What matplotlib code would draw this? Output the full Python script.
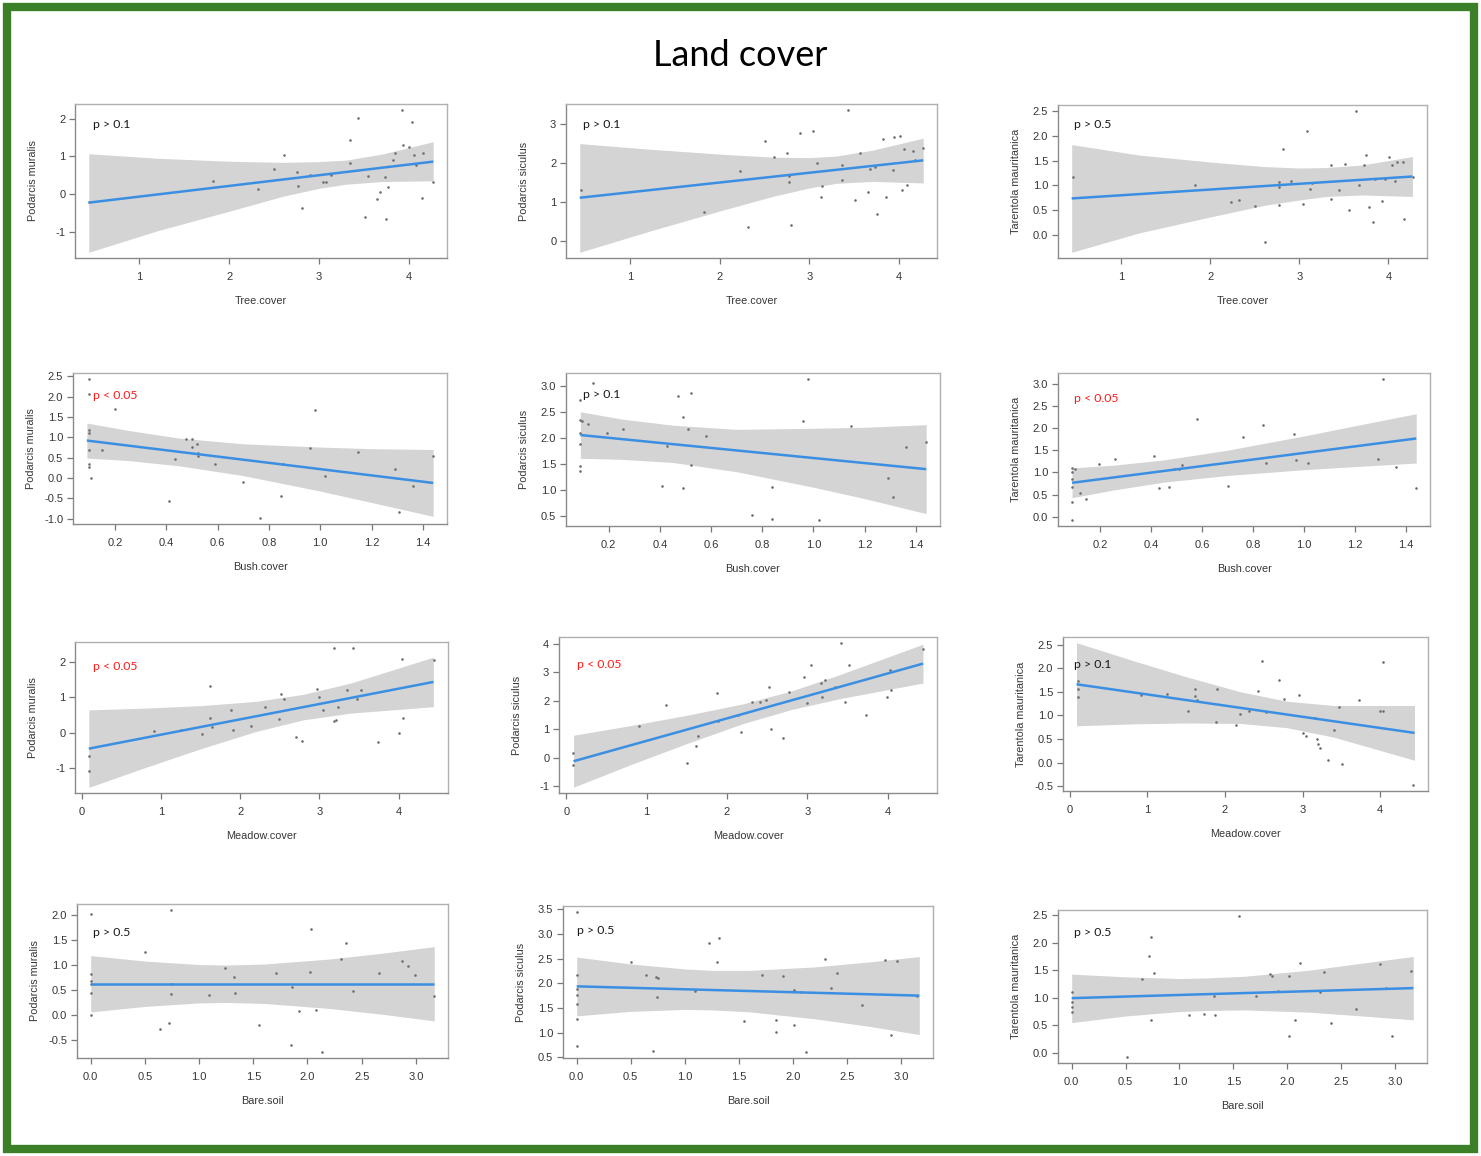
import matplotlib
matplotlib.use("Agg")
import matplotlib.pyplot as plt
from matplotlib.patches import Rectangle

# ---------------- data ----------------
title = "Land cover"
x_labels = ["Tree.cover", "Bush.cover", "Meadow.cover", "Bare.soil"]
y_labels = ["Podarcis muralis", "Podarcis siculus", "Tarentola mauritanica"]
p_texts = [["p > 0.1", "p > 0.1", "p > 0.5"],
           ["p < 0.05", "p > 0.1", "p < 0.05"],
           ["p < 0.05", "p < 0.05", "p > 0.1"],
           ["p > 0.5", "p > 0.5", "p > 0.5"]]

x_ticks = [[1, 2, 3, 4],
           [0.2, 0.4, 0.6, 0.8, 1.0, 1.2, 1.4],
           [0, 1, 2, 3, 4],
           [0.0, 0.5, 1.0, 1.5, 2.0, 2.5, 3.0]]
x_decimals = [0, 1, 0, 1]
y_ticks = [[[-1, 0, 1, 2], [0, 1, 2, 3], [0.0, 0.5, 1.0, 1.5, 2.0, 2.5]],
           [[-1.0, -0.5, 0.0, 0.5, 1.0, 1.5, 2.0, 2.5], [0.5, 1.0, 1.5, 2.0, 2.5, 3.0],
            [0.0, 0.5, 1.0, 1.5, 2.0, 2.5, 3.0]],
           [[-1, 0, 1, 2], [-1, 0, 1, 2, 3, 4], [-0.5, 0.0, 0.5, 1.0, 1.5, 2.0, 2.5]],
           [[-0.5, 0.0, 0.5, 1.0, 1.5, 2.0], [0.5, 1.0, 1.5, 2.0, 2.5, 3.0, 3.5],
            [0.0, 0.5, 1.0, 1.5, 2.0, 2.5]]]
y_decimals = [[0, 0, 1], [1, 1, 1], [0, 0, 1], [1, 1, 1]]

# band x positions per row (covariate)
tree_band_x = [0.44, 1.2, 2.0, 2.6, 3.0, 3.3, 3.7, 4.27]
bush_band_x = [0.09, 0.25, 0.45, 0.7, 1.0, 1.2, 1.44]
meadow_band_x = [0.09, 0.8, 1.5, 2.2, 2.8, 3.4, 4.44]
bare_band_x = [0.0, 0.5, 1.0, 1.25, 1.6, 2.2, 2.7, 3.17]

# --- Tree cover ---
tree_muralis_x = [0.44, 1.82, 2.32, 2.50, 2.61, 2.76, 2.77, 2.81, 2.90, 3.04, 3.08, 3.13, 3.35, 3.35,
                  3.43, 3.51, 3.55, 3.64, 3.68, 3.73, 3.74, 3.77, 3.82, 3.85, 3.92, 3.93, 4.00, 4.03,
                  4.06, 4.08, 4.15, 4.16, 4.27]
tree_muralis_y = [-0.22, 0.35, 0.13, 0.67, 1.04, 0.58, 0.22, -0.36, 0.51, 0.31, 0.31, 0.51, 1.43, 0.82,
                  2.03, -0.61, 0.49, -0.14, 0.06, 0.46, -0.67, 0.19, 0.90, 1.09, 2.24, 1.29, 1.24, 1.92,
                  1.03, 0.76, -0.10, 1.09, 0.33]
tree_muralis_line = [-0.23, 0.86]
tree_muralis_lo = [-1.55, -0.98, -0.46, -0.06, 0.15, 0.26, 0.33, 0.35]
tree_muralis_hi = [1.07, 0.95, 0.87, 0.84, 0.86, 0.90, 1.06, 1.39]

tree_siculus_x = [0.45, 1.83, 2.23, 2.32, 2.50, 2.61, 2.75, 2.77, 2.77, 2.80, 2.90, 3.04, 3.08, 3.13,
                  3.14, 3.36, 3.36, 3.43, 3.51, 3.56, 3.65, 3.68, 3.73, 3.75, 3.82, 3.85, 3.93, 3.94,
                  4.01, 4.03, 4.06, 4.09, 4.16, 4.18, 4.27]
tree_siculus_y = [1.31, 0.75, 1.79, 0.36, 2.57, 2.16, 2.25, 1.68, 1.51, 0.42, 2.77, 2.82, 2.01, 1.14,
                  1.42, 1.94, 1.57, 3.37, 1.04, 2.26, 1.27, 1.86, 1.89, 0.69, 2.63, 1.12, 1.81, 2.67,
                  2.70, 1.31, 2.35, 1.44, 2.31, 2.07, 2.38]
tree_siculus_line = [1.11, 2.07]
tree_siculus_lo = [-0.29, 0.24, 0.77, 1.15, 1.36, 1.48, 1.53, 1.49]
tree_siculus_hi = [2.50, 2.36, 2.23, 2.15, 2.14, 2.18, 2.33, 2.64]

tree_tarentola_x = [0.45, 1.83, 2.23, 2.32, 2.50, 2.61, 2.77, 2.77, 2.77, 2.81, 2.90, 3.04, 3.09, 3.12,
                    3.14, 3.36, 3.36, 3.44, 3.51, 3.56, 3.64, 3.67, 3.73, 3.75, 3.78, 3.83, 3.85, 3.93,
                    3.96, 4.01, 4.04, 4.07, 4.10, 4.16, 4.17, 4.28]
tree_tarentola_y = [1.17, 1.00, 0.67, 0.71, 0.59, -0.13, 0.96, 1.08, 0.61, 1.73, 1.10, 0.63, 2.10, 0.92,
                    1.05, 1.42, 0.72, 0.90, 1.44, 0.51, 2.50, 1.01, 1.42, 1.62, 0.57, 0.26, 1.13, 0.69,
                    1.13, 1.58, 1.42, 1.10, 1.47, 1.47, 0.32, 1.18]
tree_tarentola_line = [0.74, 1.18]
tree_tarentola_lo = [-0.34, 0.05, 0.37, 0.60, 0.71, 0.78, 0.81, 0.78]
tree_tarentola_hi = [1.82, 1.61, 1.47, 1.38, 1.35, 1.36, 1.41, 1.58]

# --- Bush cover ---
bush_muralis_x = [0.097, 0.097, 0.097, 0.097, 0.097, 0.097, 0.097, 0.108, 0.149, 0.20, 0.434, 0.41,
                  0.477, 0.499, 0.499, 0.519, 0.525, 0.525, 0.588, 0.70, 0.766, 0.848, 0.854, 0.958,
                  0.978, 1.017, 1.147, 1.29, 1.307, 1.36, 1.44]
bush_muralis_y = [2.44, 2.06, 1.18, 1.10, 0.70, 0.35, 0.28, -0.01, 0.70, 1.70, 0.46, -0.57,
                  0.96, 0.96, 0.76, 0.83, 0.62, 0.55, 0.35, -0.09, -0.99, -0.44, 0.35, 0.74,
                  1.68, 0.04, 0.64, 0.23, -0.84, -0.20, 0.55]
bush_muralis_line = [0.92, -0.12]
bush_muralis_lo = [0.49, 0.43, 0.30, 0.06, -0.32, -0.60, -0.94]
bush_muralis_hi = [1.35, 1.17, 0.98, 0.84, 0.76, 0.72, 0.70]

bush_siculus_x = [0.088, 0.088, 0.088, 0.088, 0.088, 0.088, 0.098, 0.118, 0.14, 0.194, 0.257, 0.41,
                  0.427, 0.47, 0.49, 0.49, 0.51, 0.52, 0.52, 0.58, 0.76, 0.84, 0.84, 0.96, 0.98,
                  1.02, 1.146, 1.29, 1.31, 1.36, 1.44]
bush_siculus_y = [2.73, 2.36, 2.09, 1.88, 1.47, 1.37, 2.33, 2.28, 3.06, 2.10, 2.17, 1.08,
                  1.85, 2.82, 2.41, 1.04, 2.18, 2.87, 1.48, 2.05, 0.51, 1.06, 0.43, 2.33, 3.15,
                  0.41, 2.23, 1.23, 0.86, 1.83, 1.93]
bush_siculus_line = [2.06, 1.40]
bush_siculus_lo = [1.61, 1.59, 1.53, 1.35, 1.05, 0.83, 0.54]
bush_siculus_hi = [2.51, 2.37, 2.25, 2.17, 2.19, 2.21, 2.26]

bush_tarentola_x = [0.089, 0.089, 0.089, 0.089, 0.089, 0.089, 0.10, 0.12, 0.145, 0.196, 0.259, 0.41,
                    0.43, 0.47, 0.49, 0.51, 0.52, 0.58, 0.70, 0.76, 0.84, 0.85, 0.96, 0.97, 1.015,
                    1.29, 1.31, 1.36, 1.44]
bush_tarentola_y = [1.09, 1.00, 0.86, 0.67, 0.34, -0.08, 1.08, 0.53, 0.39, 1.19, 1.31, 1.37,
                    0.64, 0.67, 1.07, 1.07, 1.16, 2.21, 0.69, 1.79, 2.06, 1.22, 1.87, 1.27, 1.22,
                    1.31, 3.11, 1.13, 0.65]
bush_tarentola_line = [0.765, 1.763]
bush_tarentola_lo = [0.43, 0.60, 0.78, 0.93, 1.06, 1.13, 1.21]
bush_tarentola_hi = [1.10, 1.16, 1.28, 1.50, 1.82, 2.05, 2.32]

# --- Meadow cover ---
meadow_muralis_x = [0.097, 0.097, 0.91, 1.26, 1.52, 1.62, 1.62, 1.65, 1.88, 1.91, 2.14, 2.31, 2.49,
                    2.52, 2.55, 2.70, 2.78, 2.97, 3.00, 3.05, 3.19, 3.19, 3.21, 3.24, 3.35, 3.43,
                    3.48, 3.52, 3.74, 4.00, 4.04, 4.06, 4.45]
meadow_muralis_y = [-0.67, -1.09, 0.04, 0.07, -0.04, 1.31, 0.40, 0.15, 0.63, 0.07, 0.19, 0.72, 0.38,
                    1.10, 0.94, -0.13, -0.24, 1.22, 1.01, 0.63, 2.38, 0.33, 0.36, 0.72, 1.19, 2.40,
                    0.94, 1.19, -0.27, -0.01, 2.07, 0.41, 2.05]
meadow_muralis_line = [-0.455, 1.43]
meadow_muralis_lo = [-1.55, -0.99, -0.46, 0.03, 0.36, 0.55, 0.73]
meadow_muralis_hi = [0.64, 0.69, 0.76, 0.88, 1.08, 1.40, 2.13]

meadow_siculus_x = [0.083, 0.083, 0.90, 1.24, 1.50, 1.61, 1.64, 1.87, 1.89, 2.14, 2.18, 2.31, 2.41,
                    2.48, 2.52, 2.55, 2.70, 2.77, 2.96, 3.00, 3.04, 3.17, 3.18, 3.22, 3.35, 3.42,
                    3.47, 3.52, 3.73, 3.99, 4.03, 4.04, 4.435]
meadow_siculus_y = [0.16, -0.24, 1.10, 1.85, -0.19, 0.41, 0.76, 2.26, 1.28, 1.50, 0.90, 1.97, 1.97,
                    2.02, 2.49, 1.01, 0.69, 2.29, 2.84, 1.91, 3.26, 2.62, 2.14, 2.73, 2.47, 4.03,
                    1.97, 3.26, 1.50, 2.12, 3.07, 2.38, 3.80]
meadow_siculus_line = [-0.12, 3.30]
meadow_siculus_lo = [-1.03, -0.24, 0.50, 1.20, 1.69, 2.07, 2.62]
meadow_siculus_hi = [0.79, 1.13, 1.49, 1.89, 2.34, 2.91, 3.98]

meadow_tarentola_x = [0.104, 0.104, 0.104, 0.92, 1.25, 1.52, 1.61, 1.62, 1.64, 1.88, 1.90, 2.14,
                      2.19, 2.31, 2.42, 2.48, 2.53, 2.70, 2.76, 2.96, 3.00, 3.04, 3.16, 3.18, 3.20,
                      3.23, 3.33, 3.41, 3.47, 3.51, 3.72, 3.99, 4.04, 4.03, 4.42]
meadow_tarentola_y = [1.73, 1.57, 1.38, 1.43, 1.46, 1.09, 1.57, 1.41, 1.32, 0.87, 1.55, 0.80,
                      1.04, 1.09, 1.51, 2.16, 1.07, 1.76, 1.34, 1.43, 0.63, 0.56, 0.95, 0.50, 0.39,
                      0.32, 0.06, 0.70, 1.18, -0.02, 1.32, 1.09, 2.14, 1.09, -0.48]
meadow_tarentola_line = [1.66, 0.63]
meadow_tarentola_lo = [0.78, 0.82, 0.84, 0.83, 0.74, 0.54, 0.05]
meadow_tarentola_hi = [2.54, 2.17, 1.82, 1.50, 1.30, 1.21, 1.21]

# --- Bare soil ---
bare_muralis_x = [0.0, 0.0, 0.0, 0.0, 0.0, 0.0, 0.50, 0.64, 0.72, 0.74, 0.74, 0.75, 1.09, 1.24,
                  1.32, 1.33, 1.55, 1.71, 1.85, 1.86, 1.92, 2.02, 2.03, 2.08, 2.13, 2.31, 2.36,
                  2.42, 2.66, 2.87, 2.93, 2.99, 3.17]
bare_muralis_y = [2.02, 0.82, 0.67, 0.61, 0.43, 0.00, 1.26, -0.29, -0.17, 2.11, 0.42, 0.61, 0.39, 0.94,
                  0.76, 0.43, -0.20, 0.85, -0.60, 0.55, 0.08, 0.87, 1.72, 0.10, -0.75, 1.12, 1.45,
                  0.47, 0.84, 1.08, 0.98, 0.80, 0.38]
bare_muralis_line = [0.625, 0.625]
bare_muralis_lo = [0.06, 0.17, 0.24, 0.25, 0.23, 0.13, 0.01, -0.12]
bare_muralis_hi = [1.19, 1.08, 1.01, 1.00, 1.02, 1.12, 1.24, 1.37]

bare_siculus_x = [0.0, 0.0, 0.0, 0.0, 0.0, 0.0, 0.0, 0.50, 0.64, 0.71, 0.73, 0.74, 0.75, 1.09, 1.22,
                  1.30, 1.32, 1.55, 1.71, 1.84, 1.84, 1.91, 2.01, 2.01, 2.08, 2.12, 2.30, 2.35, 2.41,
                  2.64, 2.85, 2.91, 2.96, 3.15]
bare_siculus_y = [3.45, 2.17, 1.88, 1.76, 1.57, 1.27, 0.73, 2.43, 2.17, 0.63, 2.13, 1.72, 2.10, 1.84, 2.82,
                  2.42, 2.91, 1.24, 2.17, 1.02, 1.25, 2.14, 1.86, 1.15, 1.83, 0.60, 2.50, 1.90, 2.20,
                  1.55, 2.47, 0.96, 2.45, 1.75]
bare_siculus_line = [1.937, 1.749]
bare_siculus_lo = [1.34, 1.43, 1.47, 1.46, 1.42, 1.28, 1.13, 0.96]
bare_siculus_hi = [2.53, 2.39, 2.29, 2.26, 2.26, 2.33, 2.43, 2.54]

bare_tarentola_x = [0.0, 0.0, 0.0, 0.0, 0.51, 0.65, 0.72, 0.74, 0.74, 0.76, 1.09, 1.23, 1.32, 1.33,
                    1.55, 1.71, 1.84, 1.86, 1.91, 2.02, 2.02, 2.07, 2.12, 2.30, 2.34, 2.41, 2.64,
                    2.86, 2.92, 2.97, 3.15]
bare_tarentola_y = [1.10, 0.92, 0.83, 0.75, -0.08, 1.34, 1.76, 2.10, 0.60, 1.45, 0.68, 0.70, 1.04, 0.68,
                    2.49, 1.04, 1.43, 1.40, 1.13, 0.30, 1.40, 0.59, 1.64, 1.11, 1.46, 0.55, 0.80,
                    1.61, 1.17, 0.30, 1.49]
bare_tarentola_line = [0.994, 1.176]
bare_tarentola_lo = [0.55, 0.67, 0.75, 0.77, 0.78, 0.74, 0.67, 0.60]
bare_tarentola_hi = [1.43, 1.38, 1.35, 1.36, 1.39, 1.50, 1.63, 1.75]

panels = [
    [(tree_muralis_x, tree_muralis_y, tree_muralis_line, tree_band_x, tree_muralis_lo, tree_muralis_hi),
     (tree_siculus_x, tree_siculus_y, tree_siculus_line, tree_band_x, tree_siculus_lo, tree_siculus_hi),
     (tree_tarentola_x, tree_tarentola_y, tree_tarentola_line, tree_band_x, tree_tarentola_lo, tree_tarentola_hi)],
    [(bush_muralis_x, bush_muralis_y, bush_muralis_line, bush_band_x, bush_muralis_lo, bush_muralis_hi),
     (bush_siculus_x, bush_siculus_y, bush_siculus_line, bush_band_x, bush_siculus_lo, bush_siculus_hi),
     (bush_tarentola_x, bush_tarentola_y, bush_tarentola_line, bush_band_x, bush_tarentola_lo, bush_tarentola_hi)],
    [(meadow_muralis_x, meadow_muralis_y, meadow_muralis_line, meadow_band_x, meadow_muralis_lo, meadow_muralis_hi),
     (meadow_siculus_x, meadow_siculus_y, meadow_siculus_line, meadow_band_x, meadow_siculus_lo, meadow_siculus_hi),
     (meadow_tarentola_x, meadow_tarentola_y, meadow_tarentola_line, meadow_band_x, meadow_tarentola_lo, meadow_tarentola_hi)],
    [(bare_muralis_x, bare_muralis_y, bare_muralis_line, bare_band_x, bare_muralis_lo, bare_muralis_hi),
     (bare_siculus_x, bare_siculus_y, bare_siculus_line, bare_band_x, bare_siculus_lo, bare_siculus_hi),
     (bare_tarentola_x, bare_tarentola_y, bare_tarentola_line, bare_band_x, bare_tarentola_lo, bare_tarentola_hi)],
]

# ---------------- layout (pixel boxes: left, top, right, bottom) ----------------
W, H = 1481, 1156
boxes = [[(75, 104, 447, 258), (566, 104, 937, 258), (1058, 105, 1427, 258)],
         [(73, 373, 447, 524), (566, 373, 940, 526), (1058, 373, 1430, 526)],
         [(75, 642, 448, 793), (559, 637, 937, 793), (1063, 637, 1428, 791)],
         [(77, 904, 448, 1058), (563, 906, 933, 1058), (1058, 910, 1427, 1063)]]
p_pos = [[(93, 125), (583, 125), (1074, 125)],
         [(93, 396), (583, 394), (1074, 398)],
         [(93, 667), (577, 665), (1074, 665)],
         [(93, 932), (577, 930), (1074, 932)]]

BAND = "#d4d4d4"
LINE = "#3b8fe3"
PT = "#6e6e6e"
TXT = "#363636"
GREEN = "#3b7f28"
SANS = ["Liberation Sans", "DejaVu Sans"]
CAL = ["Lato", "DejaVu Sans"]

fig = plt.figure(figsize=(W / 100, H / 100), dpi=100)
fig.patch.set_facecolor("white")

for r in range(4):
    for c in range(3):
        x, y, line_y, bx, lo, hi = panels[r][c]
        L, T, R, B = boxes[r][c]
        ax = fig.add_axes([L / W, 1 - B / H, (R - L) / W, (B - T) / H])
        ax.fill_between(bx, lo, hi, color=BAND, lw=0, zorder=1)
        ax.scatter(x, y, s=3.5, color=PT, lw=0, zorder=2)
        ax.plot([bx[0], bx[-1]], line_y, color=LINE, lw=1.8, zorder=3, solid_capstyle="butt")
        xs = list(x) + list(bx)
        ys = list(y) + list(lo) + list(hi)
        xr = max(xs) - min(xs)
        yr = max(ys) - min(ys)
        ax.set_xlim(min(xs) - 0.04 * xr, max(xs) + 0.04 * xr)
        ax.set_ylim(min(ys) - 0.04 * yr, max(ys) + 0.04 * yr)

        ax.set_xticks(x_ticks[r])
        ax.set_xticklabels([f"{v:.{x_decimals[r]}f}" for v in x_ticks[r]])
        ax.set_yticks(y_ticks[r][c])
        ax.set_yticklabels([f"{v:.{y_decimals[r][c]}f}" for v in y_ticks[r][c]])
        ax.tick_params(axis="x", direction="out", length=4, width=0.9, color="#777777",
                       labelsize=8, labelcolor=TXT, pad=6)
        ax.tick_params(axis="y", direction="out", length=4, width=0.9, color="#777777",
                       labelsize=8, labelcolor=TXT, pad=3)
        for lab in ax.get_xticklabels() + ax.get_yticklabels():
            lab.set_family(SANS)
        for side in ["top", "right"]:
            ax.spines[side].set_color("#b0b0b0")
            ax.spines[side].set_linewidth(1.0)
        for side in ["left", "bottom"]:
            ax.spines[side].set_color("#8a8a8a")
            ax.spines[side].set_linewidth(1.0)

        hpx = B - T
        wpx = R - L
        ax.set_xlabel(x_labels[r], fontsize=7.8, color=TXT, family=SANS, va="center")
        ax.xaxis.set_label_coords(0.5, -43 / hpx)
        ax.set_ylabel(y_labels[c], fontsize=7.8, color=TXT, family=SANS, va="center")
        ax.yaxis.set_label_coords(-42 / wpx, 0.5)

        px, py = p_pos[r][c]
        col = "#ff1a1a" if "<" in p_texts[r][c] else "#1a1a1a"
        fig.text(px / W, 1 - py / H, p_texts[r][c], fontsize=8.8, color=col,
                 family=CAL, ha="left", va="center")

fig.text(740 / W, 1 - 56 / H, title, fontsize=26, color="black", family=CAL,
         ha="center", va="center")

fig.add_artist(Rectangle((7 / W, 7 / H), 1 - 14 / W, 1 - 14 / H,
                         transform=fig.transFigure, fill=False, edgecolor=GREEN, lw=6))

fig.savefig("out.png", dpi=100, facecolor="white")
